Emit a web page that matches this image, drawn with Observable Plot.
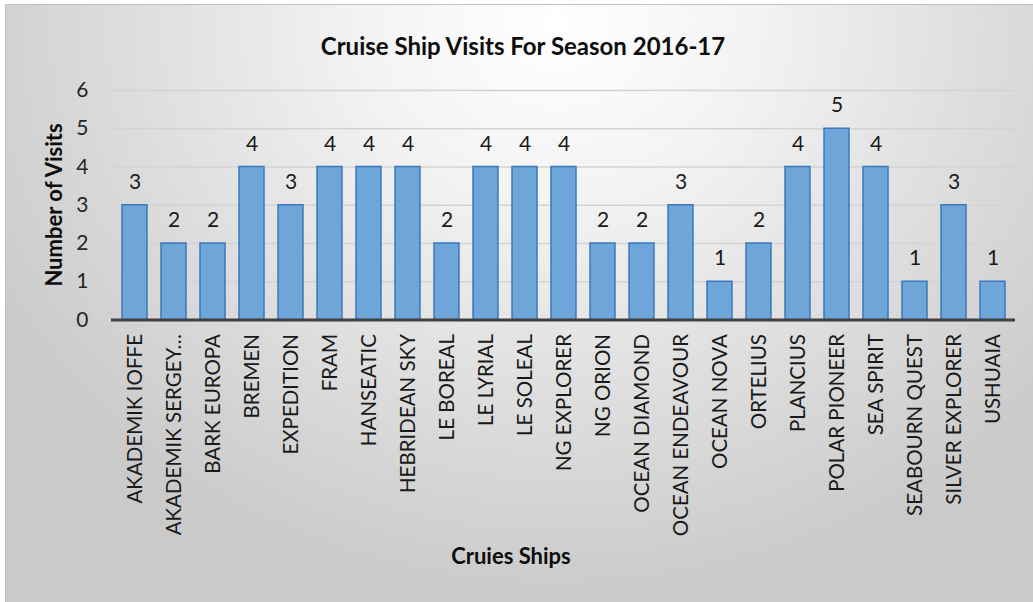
<!DOCTYPE html>
<html>
<head>
<meta charset="utf-8">
<script src="https://cdn.jsdelivr.net/npm/d3@7"></script>
<script src="https://cdn.jsdelivr.net/npm/@observablehq/plot@0.6"></script>
<style>
  html, body { margin: 0; padding: 0; background: #ffffff; }
  #wrap { position: relative; width: 1033px; height: 602px; overflow: hidden; font-family: Lato, "Open Sans", sans-serif; }
  #bg { position: absolute; left: 5px; top: 4px; width: 1040px; height: 610px;
        border-top: 1px solid #c0c0c0; border-left: 1px solid #c0c0c0;
        background: radial-gradient(ellipse 62% 95% at 53% 3%, #ffffff 0%, #f3f3f3 30%, #dedede 65%, #cacaca 100%); }
  #chart { position: absolute; left: 0; top: 0; }
  .t { position: absolute; color: #0d0d0d; font-weight: 700; white-space: nowrap; }
  #title { left: 523px; top: 45px; transform: translate(-50%, -50%); font-size: 24px; }
  #xtitle { left: 511px; top: 555px; transform: translate(-50%, -50%); font-size: 22px; }
  #ytitle { left: 53px; top: 205px; transform: translate(-50%, -50%) rotate(-90deg); font-size: 22px; }
</style>
</head>
<body>
<div id="wrap">
  <div id="bg"></div>
  <div id="chart"></div>
  <div class="t" id="title"></div>
  <div class="t" id="xtitle"></div>
  <div class="t" id="ytitle"></div>
</div>
<script>
const chartTitle = "Cruise Ship Visits For Season 2016-17";
const xTitle = "Cruies Ships";
const yTitle = "Number of Visits";

const ships = ["AKADEMIK IOFFE", "AKADEMIK SERGEY…", "BARK EUROPA", "BREMEN", "EXPEDITION", "FRAM",
  "HANSEATIC", "HEBRIDEAN SKY", "LE BOREAL", "LE LYRIAL", "LE SOLEAL", "NG EXPLORER", "NG ORION",
  "OCEAN DIAMOND", "OCEAN ENDEAVOUR", "OCEAN NOVA", "ORTELIUS", "PLANCIUS", "POLAR PIONEER",
  "SEA SPIRIT", "SEABOURN QUEST", "SILVER EXPLORER", "USHUAIA"];
const visits = [3, 2, 2, 4, 3, 4, 4, 4, 2, 4, 4, 4, 2, 2, 3, 1, 2, 4, 5, 4, 1, 3, 1];
const yTicks = [0, 1, 2, 3, 4, 5, 6];

const data = ships.map((s, i) => ({ship: s, visits: visits[i]}));

document.getElementById("title").textContent = chartTitle;
document.getElementById("xtitle").textContent = xTitle;
document.getElementById("ytitle").textContent = yTitle;

const plot = Plot.plot({
  width: 1033,
  height: 602,
  marginLeft: 111,
  marginRight: 18,
  marginTop: 90,
  marginBottom: 282.5,
  style: { background: "transparent", fontFamily: "Lato, 'Open Sans', sans-serif", color: "#262626" },
  x: { domain: ships, paddingInner: 0.364, paddingOuter: 0.182 },
  y: { domain: [0, 6] },
  marks: [
    Plot.gridY(yTicks.filter(d => d > 0), { stroke: "#d3d3d3", strokeOpacity: 1, strokeWidth: 1.5 }),
    Plot.barY(data, { x: "ship", y: "visits", fill: "#6fa6da", stroke: "#3a78bb", strokeWidth: 1.5 }),
    Plot.ruleY([0], { stroke: "#404040", strokeWidth: 3 }),
    Plot.text(data, { x: "ship", y: "visits", text: d => String(d.visits), dy: -23, fontSize: 21, fill: "#1a1a1a" }),
    Plot.axisY({ ticks: yTicks, tickFormat: d3.format("d"), tickSize: 0, tickPadding: 23, fontSize: 21, label: null, fill: "#262626" }),
    Plot.axisX({ tickRotate: -90, tickSize: 0, tickPadding: 14, fontSize: 20.5, label: null, fill: "#1a1a1a" })
  ]
});
document.getElementById("chart").appendChild(plot);
</script>
</body>
</html>
